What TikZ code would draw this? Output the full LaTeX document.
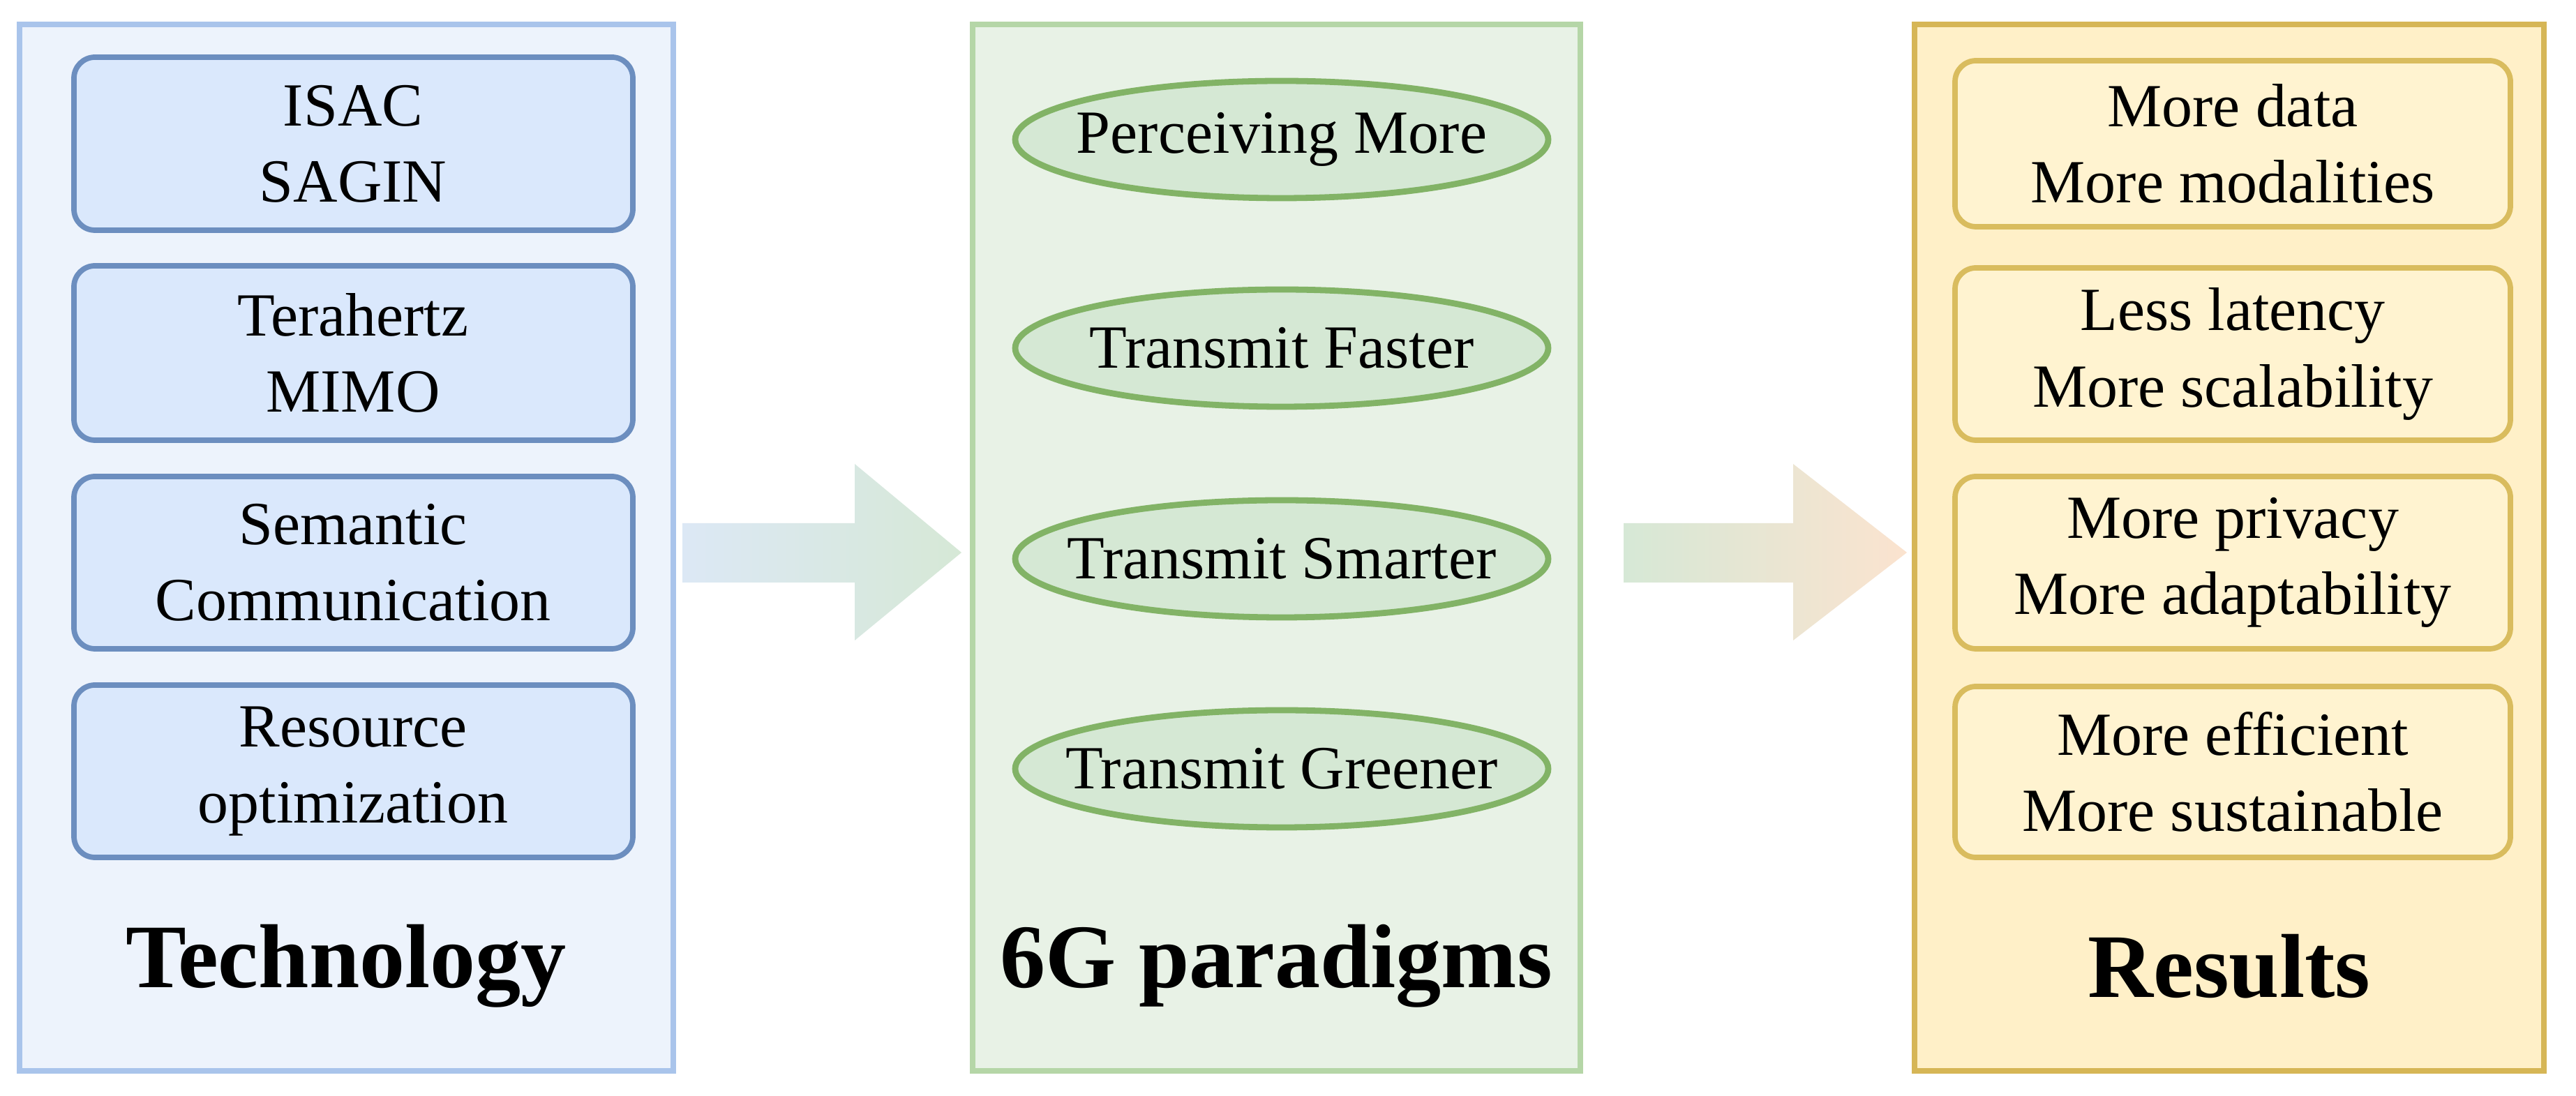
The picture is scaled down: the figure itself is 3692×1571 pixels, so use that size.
\documentclass[tikz,border=0pt]{standalone}
\usepackage{fontspec}
\setmainfont{Liberation Serif}
\definecolor{lpf}{HTML}{EDF3FC}\definecolor{lpd}{HTML}{A9C4EB}
\definecolor{lbf}{HTML}{DAE8FC}\definecolor{lbd}{HTML}{6C8EBF}
\definecolor{mpf}{HTML}{E8F2E6}\definecolor{mpd}{HTML}{B5D6A7}
\definecolor{mbf}{HTML}{D5E8D4}\definecolor{mbd}{HTML}{82B366}
\definecolor{rpf}{HTML}{FFF0C8}\definecolor{rpd}{HTML}{D6B656}
\definecolor{rbf}{HTML}{FFF3D0}\definecolor{rbd}{HTML}{D9BC5E}
\definecolor{arb}{HTML}{DCE8F5}\definecolor{arg}{HTML}{D6E8D6}\definecolor{aro}{HTML}{FBE3CF}
\begin{document}
\begin{tikzpicture}[x=0.01cm,y=-0.01cm,
 txt/.style={align=center,font=\fontsize{25}{31}\selectfont},
 ttl/.style={font=\fontsize{37}{40}\selectfont\bfseries}]
\useasboundingbox (0,0) rectangle (3692,1571);
\fill[white] (0,0) rectangle (3692,1571);
% panels
\draw[draw=lpd,fill=lpf,line width=2.5pt] (28,35) rectangle (965,1535);
\draw[draw=mpd,fill=mpf,line width=2.5pt] (1394,35) rectangle (2265,1535);
\draw[draw=rpd,fill=rpf,line width=2.5pt] (2744,35) rectangle (3646,1535);
% arrows
\shade[left color=arb,right color=arg] (978,750) -- (1225,750) -- (1225,665) -- (1378,792) -- (1225,918) -- (1225,835) -- (978,835) -- cycle;
\shade[left color=arg,right color=aro] (2327,750) -- (2570,750) -- (2570,665) -- (2733,792) -- (2570,918) -- (2570,835) -- (2327,835) -- cycle;
% left boxes
\foreach \n/\a/\b/\t in {t1/82/330/{ISAC\\SAGIN},t2/381/631/{Terahertz\\MIMO},t3/683/930/{Semantic\\Communication},t4/982/1229/{Resource\\optimization}}{
 \draw[draw=lbd,fill=lbf,line width=2.2pt,rounded corners=0.3cm] (106,\a) rectangle (907,\b);
 \node[txt] (\n) at (506,{(\a+\b)/2}) {\t};}
\node[ttl] (tt) at (496,1385) {Technology};
% middle ellipses
\foreach \n/\y/\t in {e1/200/Perceiving More,e2/499/Transmit Faster,e3/801/Transmit Smarter,e4/1102/Transmit Greener}{
 \draw[draw=mbd,fill=mbf,line width=2.5pt] (1837,\y) ellipse [x radius=382, y radius=84];
 \node[txt] (\n) at (1837,\y) {\t};}
\node[ttl] (mt) at (1829,1385) {6G paradigms};
% right boxes
\foreach \n/\a/\b/\t in {r1/87/325/{More data\\More modalities},r2/384/631/{Less latency\\More scalability},r3/683/930/{More privacy\\More adaptability},r4/984/1229/{More efficient\\More sustainable}}{
 \draw[draw=rbd,fill=rbf,line width=2.2pt,rounded corners=0.3cm] (2802,\a) rectangle (3598,\b);
 \node[txt] (\n) at (3200,{(\a+\b)/2}) {\t};}
\node[ttl] (rt) at (3195,1385) {Results};
\end{tikzpicture}
\end{document}
